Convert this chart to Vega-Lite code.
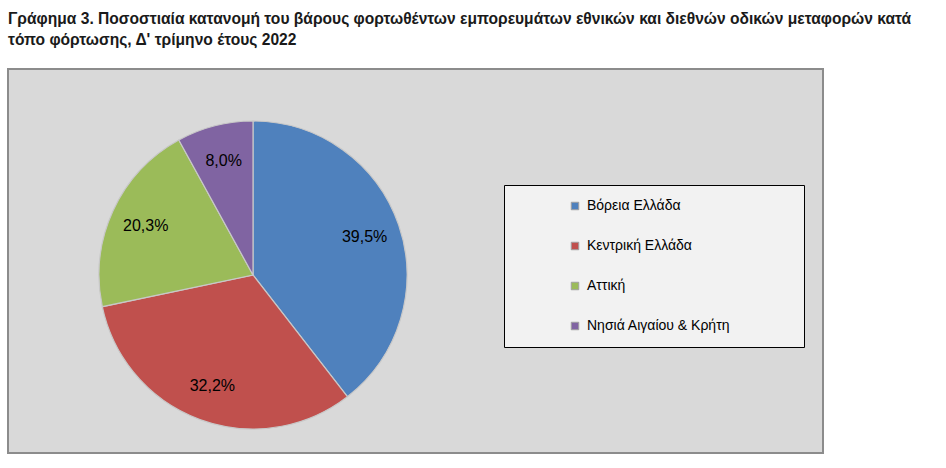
{
  "$schema": "https://vega.github.io/schema/vega-lite/v6.json",
  "autosize": {"type": "none"},
  "padding": {"left": 8, "top": 69, "right": 123, "bottom": 15},
  "width": 815,
  "height": 384,
  "background": "white",
  "view": {"fill": "#d9d9d9", "stroke": "#8c8c8c", "strokeWidth": 2},
  "title": {
    "text": ["Γράφημα 3. Ποσοστιαία κατανομή του βάρους φορτωθέντων εμπορευμάτων εθνικών και διεθνών οδικών μεταφορών κατά", "τόπο φόρτωσης, Δ' τρίμηνο έτους 2022"],
    "anchor": "start",
    "frame": "group",
    "orient": "top",
    "offset": 20,
    "font": "Liberation Sans",
    "fontSize": 15.6,
    "fontWeight": "bold",
    "lineHeight": 21,
    "color": "#1a1a1a"
  },
  "config": {
    "font": "Liberation Sans"
  },
  "data": {
    "values": [
      {"region": "Βόρεια Ελλάδα", "pct": 39.5, "label": "39,5%", "ord": 1},
      {"region": "Κεντρική Ελλάδα", "pct": 32.2, "label": "32,2%", "ord": 2},
      {"region": "Αττική", "pct": 20.3, "label": "20,3%", "ord": 3},
      {"region": "Νησιά Αιγαίου & Κρήτη", "pct": 8.0, "label": "8,0%", "ord": 4}
    ]
  },
  "encoding": {
    "theta": {"field": "pct", "type": "quantitative", "stack": true},
    "order": {"field": "ord", "type": "quantitative"}
  },
  "layer": [
    {
      "mark": {"type": "arc", "outerRadius": 154, "x": 245, "y": 206, "stroke": "#c8c8c8", "strokeWidth": 1.2},
      "encoding": {
        "color": {
          "field": "region",
          "type": "nominal",
          "scale": {
            "domain": ["Βόρεια Ελλάδα", "Κεντρική Ελλάδα", "Αττική", "Νησιά Αιγαίου & Κρήτη"],
            "range": ["#4F81BD", "#C0504D", "#9BBB59", "#8064A2"]
          },
          "legend": {
            "orient": "none",
            "legendX": 496,
            "legendY": 116,
            "title": "\u00a0",
            "titleOrient": "right",
            "titlePadding": 60,
            "padding": 14,
            "fillColor": "#f2f2f2",
            "strokeColor": "#000000",
            "symbolType": "square",
            "symbolSize": 56,
            "symbolStrokeColor": "#a0a0a0",
            "symbolStrokeWidth": 1,
            "symbolOffset": 50,
            "labelOffset": 5,
            "labelFontSize": 14,
            "labelFont": "Liberation Sans",
            "labelColor": "#000000",
            "labelLimit": 300,
            "rowPadding": 26
          }
        }
      }
    },
    {
      "mark": {"type": "text", "radius": 118, "x": 245, "y": 206, "fontSize": 16, "font": "Liberation Sans", "color": "#000000"},
      "encoding": {"text": {"field": "label", "type": "nominal"}}
    }
  ]
}
